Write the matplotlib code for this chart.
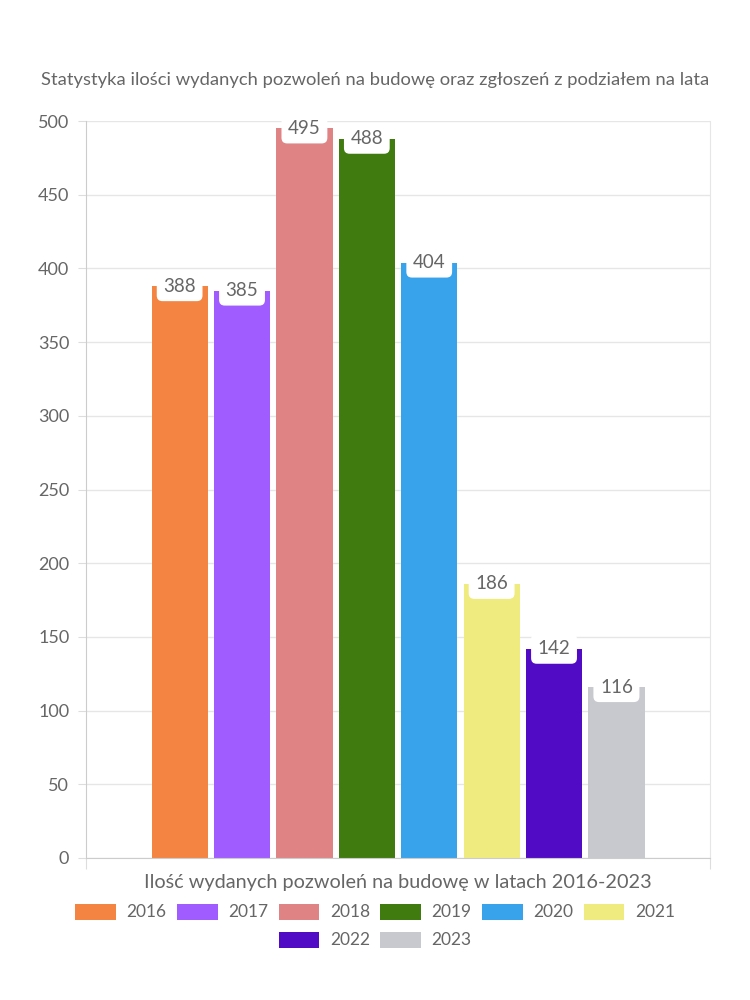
import matplotlib.pyplot as plt
from matplotlib.patches import Patch

# dane
lata = ['2016', '2017', '2018', '2019', '2020', '2021', '2022', '2023']
wartosci = [388, 385, 495, 488, 404, 186, 142, 116]
kolory = ['#F48441', '#A05CFF', '#E08385', '#3F7B0E', '#38A3EA',
          '#F0EB7E', '#520BC4', '#C8C9CE']
y_ticks = [0, 50, 100, 150, 200, 250, 300, 350, 400, 450, 500]

plt.rcParams['font.family'] = ['Lato', 'DejaVu Sans']
szary = '#666666'

fig = plt.figure(figsize=(7.5, 10), dpi=100)
ax = fig.add_axes([0.1147, 0.142, 0.832, 0.737])

szer = 0.09
krok = 0.1
for i, (rok, v, c) in enumerate(zip(lata, wartosci, kolory)):
    x = (i - 3.5) * krok
    ax.bar(x, v, width=szer, color=c, zorder=2)
    ax.annotate(str(v), (x, v), xytext=(0, 0), textcoords='offset points',
                ha='center', va='center', fontsize=13.5, color=szary, zorder=4,
                bbox=dict(boxstyle='round,pad=0.35,rounding_size=0.3',
                          fc='white', ec='none'))

ax.set_xlim(-0.5, 0.5)
ax.set_ylim(0, 500)
ax.set_yticks(y_ticks)
ax.set_yticklabels([str(t) for t in y_ticks], fontsize=13, color=szary)
ax.set_xticks([-0.5, 0.5])
ax.set_xticklabels(['', ''])
ax.tick_params(axis='x', length=8, color='#dddddd')
ax.tick_params(axis='y', length=6, color='#dddddd', pad=6)
ax.grid(axis='y', color='#e6e6e6', linewidth=1, zorder=0)
ax.set_axisbelow(True)
for s in ['left', 'bottom']:
    ax.spines[s].set_color('#cccccc')
ax.spines['right'].set_color('#e6e6e6')
ax.spines['top'].set_visible(False)

ax.set_xlabel('Ilość wydanych pozwoleń na budowę w latach 2016-2023',
              fontsize=14.3, color=szary, labelpad=0)
fig.text(0.5, 0.92, 'Statystyka ilości wydanych pozwoleń na budowę oraz zgłoszeń z podziałem na lata',
         ha='center', va='center', fontsize=13.2, color=szary)

# legenda w dwóch rzędach: 6 + 2
uchwyty = [Patch(facecolor=c, edgecolor='none') for c in kolory]
opcje = dict(frameon=False, fontsize=12.5, labelcolor=szary, handlelength=2.35,
             handleheight=1.05, columnspacing=0.6, handletextpad=0.6,
             borderaxespad=0, borderpad=0)
fig.legend(uchwyty[:6], lata[:6], loc='center',
           bbox_to_anchor=(0.5, 0.088), ncol=6, **opcje)
fig.legend(uchwyty[6:], lata[6:], loc='center',
           bbox_to_anchor=(0.5, 0.060), ncol=2, **opcje)

fig.savefig('out.png', dpi=100)
